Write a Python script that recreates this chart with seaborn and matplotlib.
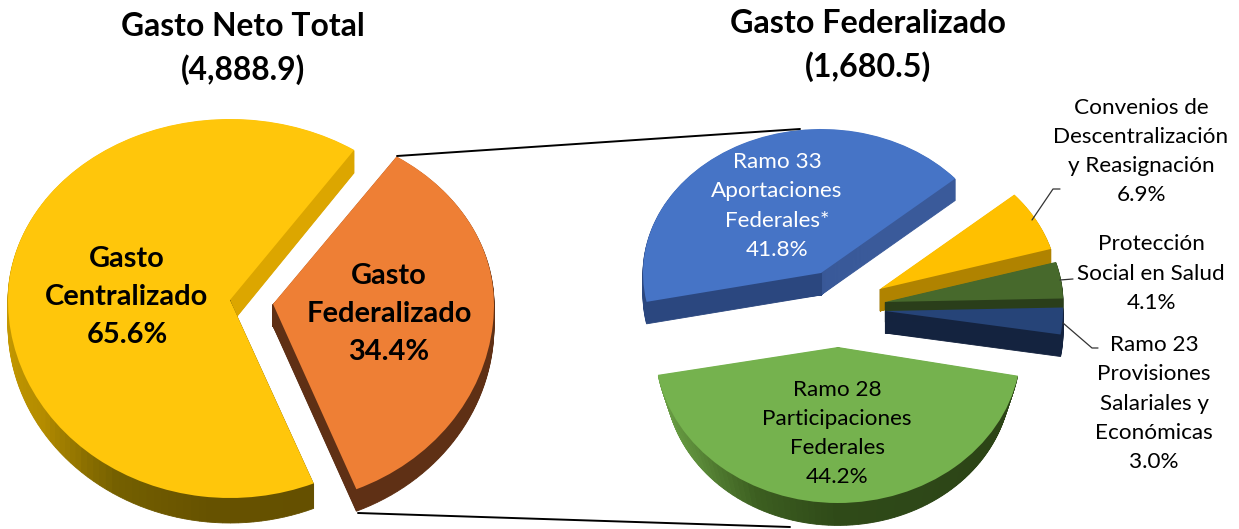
#!/usr/bin/env python3
# coding: utf-8

import matplotlib as mpl
import matplotlib.pyplot as plt
import numpy as np
import seaborn as sns

mpl.use('Agg')  # no display

# total spending split
total_shares = [65.6, 34.4]
total_labels = ['Gasto\nCentralizado\n65.6%', 'Gasto\nFederalizado\n34.4%']

# federalised spending split, counter-clockwise from the blue slice
fed_shares = [41.8, 44.2, 3.0, 4.1, 6.9]
fed_labels = ['Ramo 33\nAportaciones\nFederales*\n41.8%',
              'Ramo 28\nParticipaciones\nFederales\n44.2%',
              'Ramo 23\nProvisiones\nSalariales y\nEconómicas\n3.0%',
              'Protección\nSocial en Salud\n4.1%',
              'Convenios de\nDescentralización\ny Reasignación\n6.9%']

title_left = 'Gasto Neto Total\n(4,888.9)'
title_right = 'Gasto Federalizado\n(1,680.5)'

# figure size in pixels, everything below is laid out in these
W, H = 1239, 529

sns.set_theme(style='white')
plt.rcParams['font.family'] = ['Lato', 'DejaVu Sans']

fig = plt.figure(figsize=(W / 100, H / 100), dpi=100)


def draw_slice(share, start, apex, radii, depth, top, side, shrink=0.0):
    """one pie slice on its own axes, side wall is a stack of darker copies"""
    cx, cy = apex
    rx, ry_up, ry_down = radii
    rest = 100 - share
    ax = fig.add_axes([0, 0, 1, 1])
    ax.patch.set_visible(False)

    n = max(2, int(share * 3.6 / 2))
    shades = sns.blend_palette(side, n_colors=n)
    for k in range(depth, 0, -1):
        wedges, _ = ax.pie([share / n] * n + [rest],
                           colors=list(shades) + ['none'],
                           startangle=start,
                           radius=1 - shrink * k / depth,
                           center=(0, -k / ry_down))
        wedges[-1].set_visible(False)  # rest of the circle stays empty
        for w, c in zip(wedges, shades):
            w.set_edgecolor(c)  # hides the seams between the pieces
            w.set_linewidth(0.6)
    wedges, _ = ax.pie([share, rest], colors=[top, 'none'], startangle=start,
                       wedgeprops={'linewidth': 0})
    wedges[-1].set_visible(False)

    # flatten the circle, the near half comes out a bit taller than the far one
    ax.set_aspect('auto')
    ax.set_yscale('function', functions=(
        lambda y: np.where(y > 0, y * ry_up, y * ry_down),
        lambda v: np.where(v > 0, v / ry_up, v / ry_down)))
    ax.set_xlim(-cx / rx, (W - cx) / rx)
    ax.set_ylim((cy - H) / ry_down, cy / ry_up)
    ax.axis('off')
    return start + share * 3.6


# left pie
ang = 56
ang = draw_slice(total_shares[0], ang, (230, 300), (222, 181, 198), 25, '#FFC60B',
                 ['#DCA600', '#DCA600', '#DCA600', '#DCA600', '#D0A000',
                  '#C49800', '#B48C00', '#756000', '#665200', '#655000'])
draw_slice(total_shares[1], ang, (273, 304), (221, 178, 200), 22, '#EE7F35',
           ['#5F3015', '#5F3015'])

# right pie, angles run on from slice to slice
starts = [41]
for s in fed_shares[:-1]:
    starts.append(starts[-1] + s * 3.6)

draw_slice(fed_shares[0], starts[0], (821, 273), (178, 144, 145), 22, '#4674C6',
           ['#3A5A9A', '#2B477F'])
draw_slice(fed_shares[1], starts[1] - 1.2, (838, 347), (183, 156, 156), 31, '#75B24E',
           ['#6FA548', '#5C8C3A', '#3C5E20', '#2F4A18', '#2E4818', '#2C4416', '#2C4416'],
           shrink=0.055)
# small ones back to front
draw_slice(fed_shares[4], starts[4], (880, 289), (178, 144, 144), 22, '#FFC000',
           ['#B08300', '#B08300'])
draw_slice(fed_shares[3], starts[3], (885, 302), (178, 144, 144), 20, '#47692C',
           ['#2A3E1A', '#2A3E1A'])
draw_slice(fed_shares[2], starts[2], (885, 311), (178, 144, 144), 22, '#264478',
           ['#14233F', '#14233F'])

# overlay in pixel coordinates for the lines and texts
over = fig.add_axes([0, 0, 1, 1])
over.set_xlim(0, W)
over.set_ylim(H, 0)
over.axis('off')

over.plot([397, 800], [156, 129], color='black', lw=1.4)
over.plot([358, 790], [513, 527], color='black', lw=1.4)
over.plot([1032, 1053, 1060], [220, 189, 189], color='#333333', lw=0.9)
over.plot([1060, 1073], [280, 279], color='#333333', lw=0.9)
over.plot([1063, 1092, 1098], [323, 348, 348], color='#333333', lw=0.9)

over.text(243, 48.5, title_left, ha='center', va='center', fontsize=22.9,
          fontweight='bold', color='black', linespacing=1.5)
over.text(868, 45.5, title_right, ha='center', va='center', fontsize=23.2,
          fontweight='bold', color='black', linespacing=1.5)

over.text(127, 297, total_labels[0], ha='center', va='center', fontsize=20.9,
          fontweight='bold', color='black', linespacing=1.55)
over.text(389, 314, total_labels[1], ha='center', va='center', fontsize=20.9,
          fontweight='bold', color='black', linespacing=1.55)

over.text(777, 206, fed_labels[0], ha='center', va='center', fontsize=16.2,
          color='white', linespacing=1.575)
over.text(837, 433.5, fed_labels[1], ha='center', va='center', fontsize=16.2,
          color='black', linespacing=1.575)
over.text(1154, 403.5, fed_labels[2], ha='center', va='center', fontsize=16.2,
          color='black', linespacing=1.575)
over.text(1151, 273.5, fed_labels[3], ha='center', va='center', fontsize=16.2,
          color='black', linespacing=1.575)
over.text(1141, 151.5, fed_labels[4], ha='center', va='center', fontsize=16.2,
          color='black', linespacing=1.575)

fig.savefig('out.png', dpi=100)
